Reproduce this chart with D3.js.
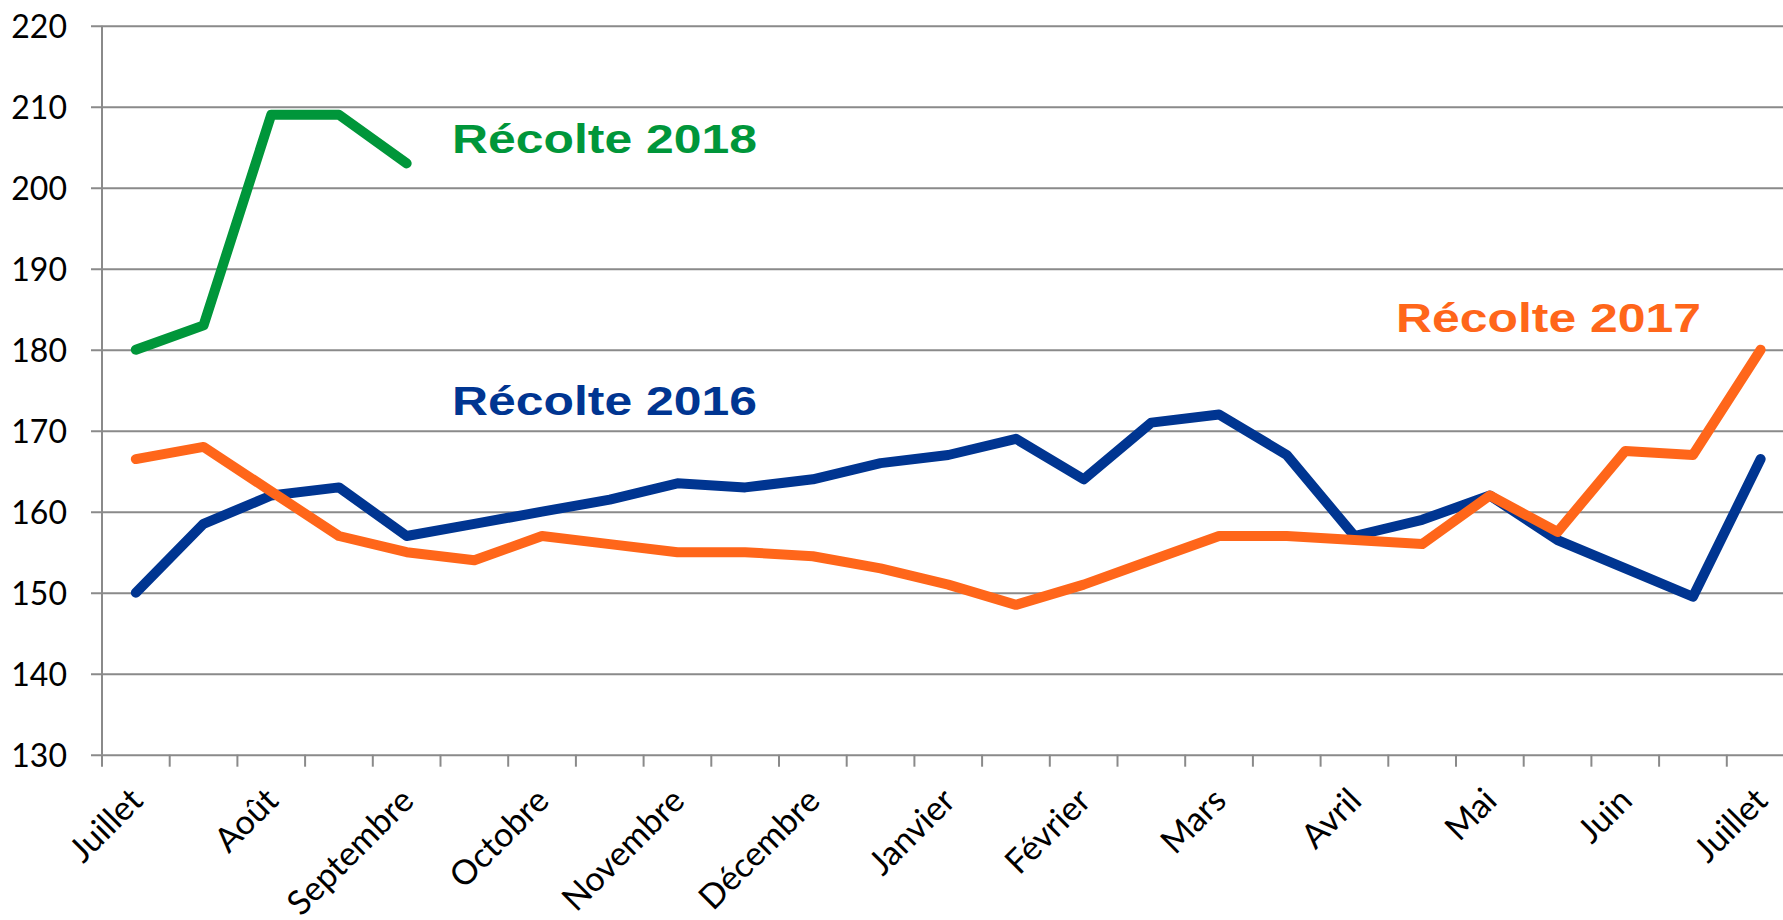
<!DOCTYPE html>
<html>
<head>
<meta charset="utf-8">
<script src="https://cdn.jsdelivr.net/npm/d3@7"></script>
<style>
  html, body { margin: 0; padding: 0; background: #fff; overflow: hidden; }
  .tick-label { font-family: Lato, "Open Sans", sans-serif; font-size: 32px; fill: #000; }
  .month-label { font-family: Lato, "Open Sans", sans-serif; font-size: 34px; fill: #000; }
  .serie-label { font-family: "Liberation Sans", Arial, sans-serif; font-weight: bold; font-size: 40px; }
</style>
</head>
<body>
<script>
// Mois affichés sur l'axe (une étiquette toutes les deux périodes)
const months = ["Juillet", "Août", "Septembre", "Octobre", "Novembre", "Décembre",
    "Janvier", "Février", "Mars", "Avril", "Mai", "Juin", "Juillet"];

// valeurs par quinzaine (25 points)
const recolte2016 = [150, 158.5, 162, 163, 157, 158.5, 160, 161.5, 163.5, 163, 164, 166, 167,
    169, 164, 171, 172, 167, 157, 159, 162, 156.5, 153, 149.5, 166.5];
const recolte2017 = [166.5, 168, 162.5, 157, 155, 154, 157, 156, 155, 155, 154.5, 153, 151,
    148.5, 151, 154, 157, 157, 156.5, 156, 162, 157.5, 167.5, 167, 180];
const recolte2018 = [180, 183, 209, 209, 203];

const yTicks = [130, 140, 150, 160, 170, 180, 190, 200, 210, 220];

const series = [
    { name: "Récolte 2016", values: recolte2016, color: "#003591" },
    { name: "Récolte 2017", values: recolte2017, color: "#FF661A" },
    { name: "Récolte 2018", values: recolte2018, color: "#00963A" }
];

const W = 1783, H = 920;
const padLeft = 102, padTop = 25.7, padBottom = 754.7, step = 67.7;
const nCat = recolte2017.length;
const plotRight = padLeft + nCat * step;
const gridColor = "#8a8a8a";

const svg = d3.select("body").append("svg")
    .attr("width", W)
    .attr("height", H);

const x = d3.scaleBand()
    .domain(d3.range(nCat))
    .range([padLeft, plotRight])
    .padding(0);
const y = d3.scaleLinear()
    .domain([130, 220])
    .range([padBottom, padTop]);

// grille horizontale + petites graduations à gauche
const yAxis = d3.axisLeft(y)
    .tickValues(yTicks)
    .tickSize(plotRight - padLeft + 11)
    .tickPadding(24)
    .tickFormat(d => d);
const yAxisG = svg.append("g")
    .attr("transform", `translate(${padLeft},0)`)
    .call(yAxis);
yAxisG.select(".domain").remove();
yAxisG.selectAll(".tick line")
    .attr("stroke", gridColor)
    .attr("stroke-width", 2)
    .attr("x1", -11)
    .attr("x2", plotRight - padLeft);
yAxisG.selectAll(".tick text")
    .attr("class", "tick-label")
    .attr("x", -35)
    .attr("dy", "0.36em")
    .attr("text-anchor", "end");

// axe vertical
svg.append("line")
    .attr("x1", padLeft).attr("x2", padLeft)
    .attr("y1", y(220)).attr("y2", y(130))
    .attr("stroke", gridColor)
    .attr("stroke-width", 2);

// graduations de l'axe x, aux limites des catégories
const xTickPos = d3.range(nCat + 1).map(i => padLeft + i * step);
svg.append("g").selectAll("line")
    .data(xTickPos)
    .join("line")
    .attr("x1", d => d).attr("x2", d => d)
    .attr("y1", y(130)).attr("y2", y(130) + 12)
    .attr("stroke", gridColor)
    .attr("stroke-width", 2);

// étiquettes des mois, tournées à -45°
svg.append("g").selectAll("text")
    .data(months)
    .join("text")
    .attr("class", "month-label")
    .attr("text-anchor", "end")
    .attr("transform", (d, i) => {
        const cx = x(i * 2) + x.bandwidth() / 2 + 9;
        return `translate(${cx},${y(130) + 48}) rotate(-45)`;
    })
    .text(d => d);

// courbes
const line = d3.line()
    .x((d, i) => x(i) + x.bandwidth() / 2)
    .y(d => y(d));

svg.append("g").selectAll("path")
    .data(series)
    .join("path")
    .attr("d", d => line(d.values))
    .attr("fill", "none")
    .attr("stroke", d => d.color)
    .attr("stroke-width", 10)
    .attr("stroke-linejoin", "round")
    .attr("stroke-linecap", "round");

// noms des séries
const labelPos = [
    { x: 452, y: 415 },
    { x: 1396, y: 332 },
    { x: 452, y: 153 }
];
svg.append("g").selectAll("text")
    .data(series)
    .join("text")
    .attr("class", "serie-label")
    .attr("x", (d, i) => labelPos[i].x)
    .attr("y", (d, i) => labelPos[i].y)
    .attr("textLength", 305)
    .attr("lengthAdjust", "spacingAndGlyphs")
    .attr("fill", d => d.color)
    .text(d => d.name);
</script>
</body>
</html>
